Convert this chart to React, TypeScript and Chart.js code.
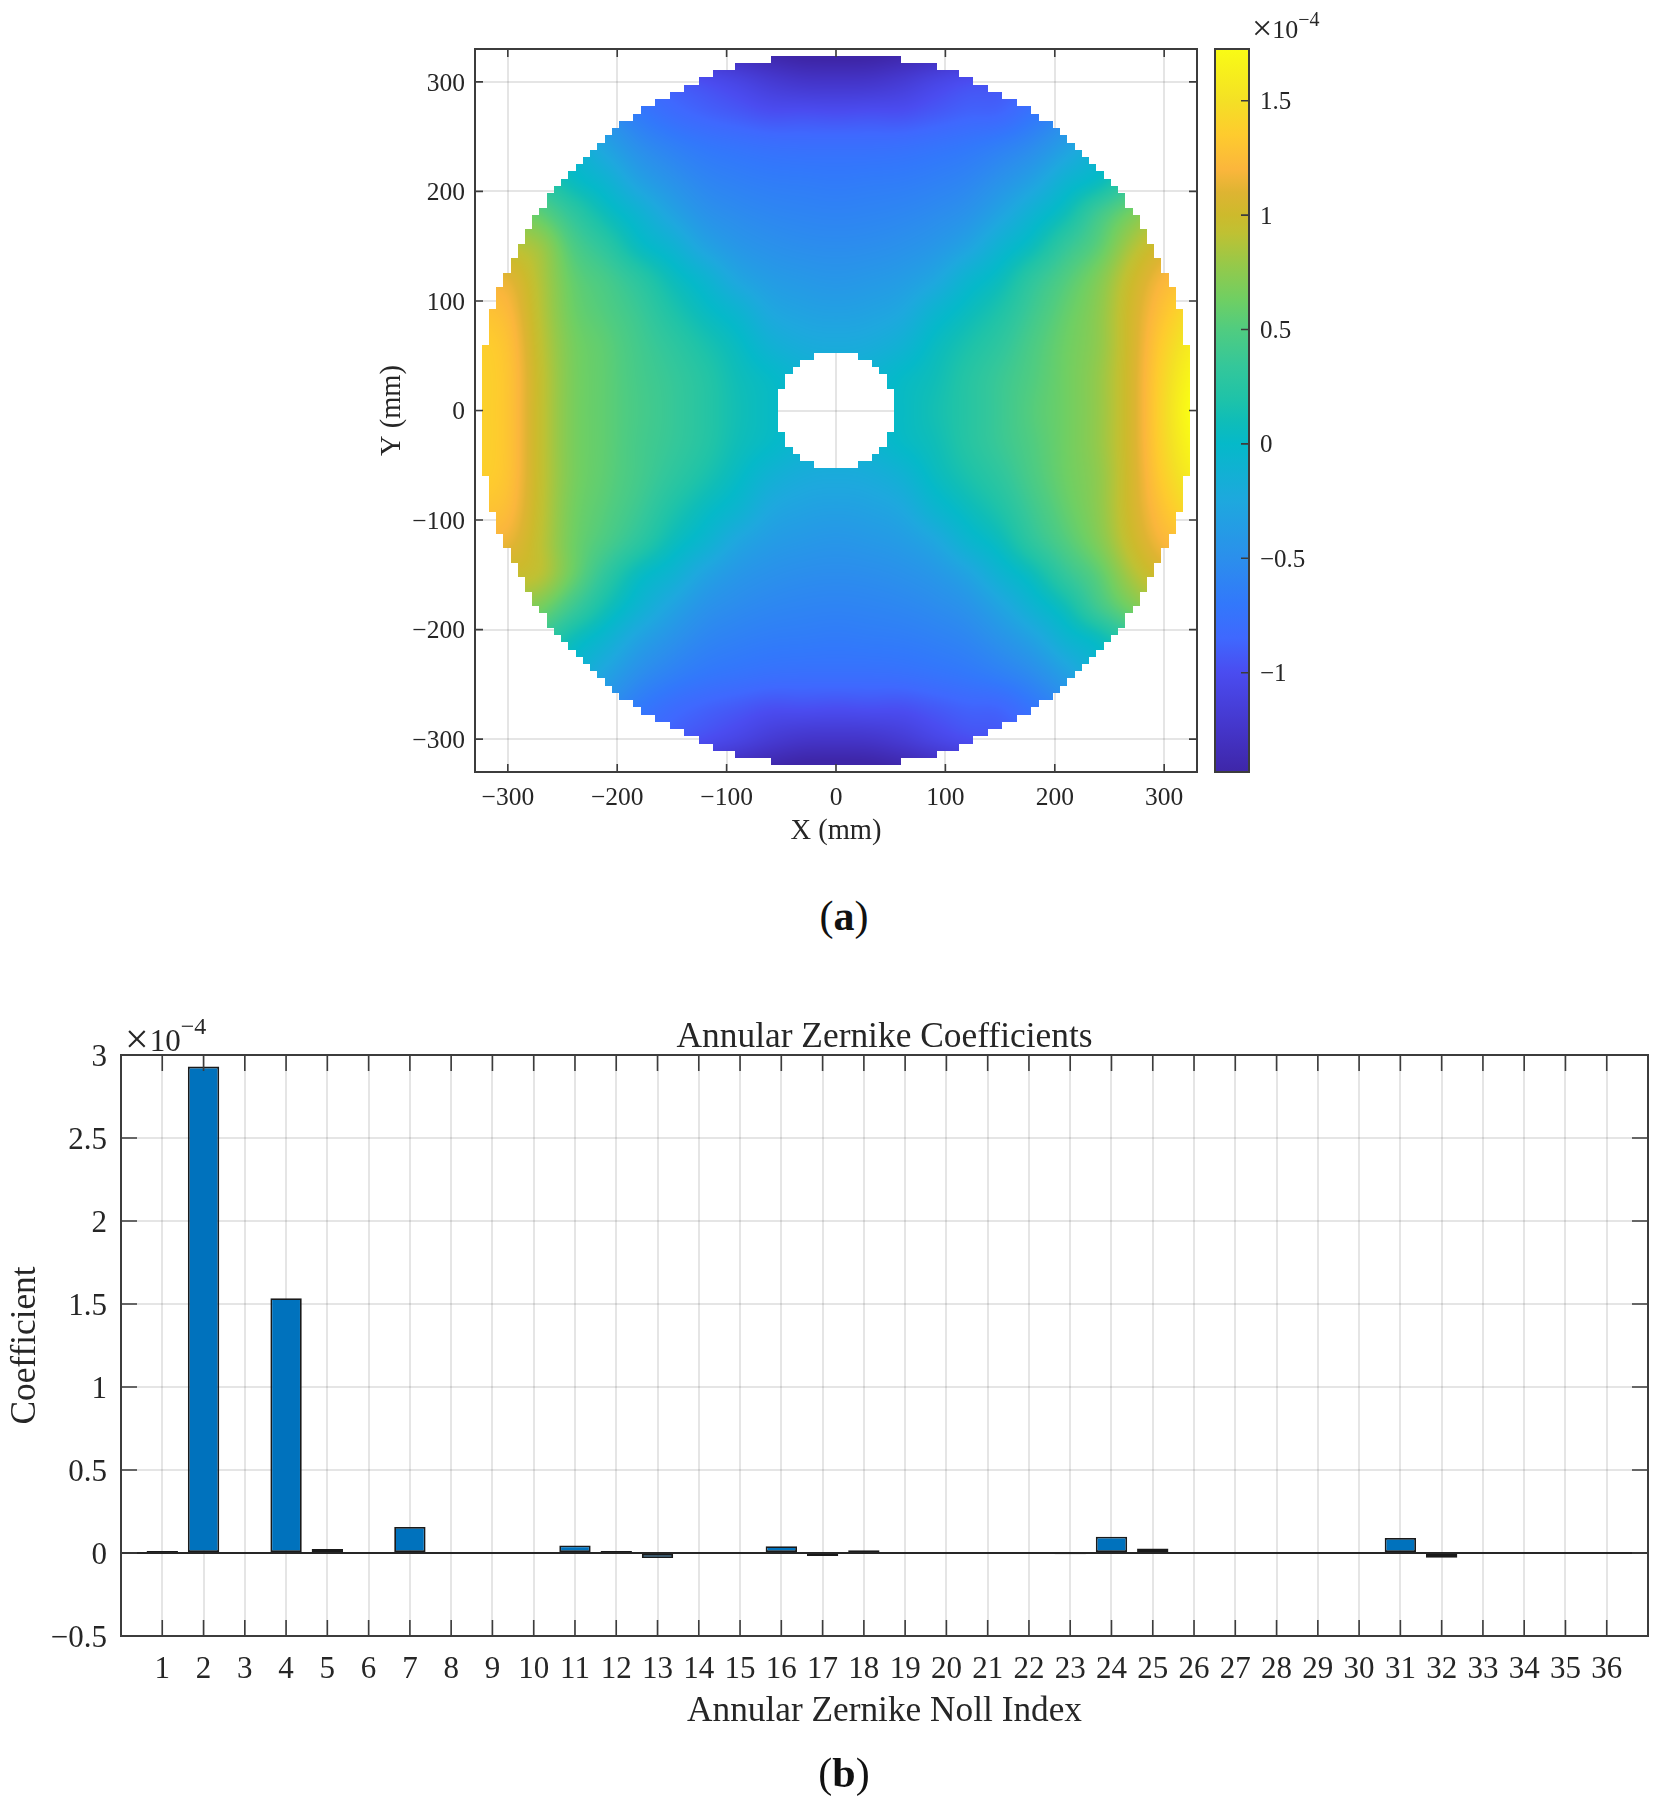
import React, { useEffect, useRef } from "react";
import { Chart, registerables } from "chart.js";

Chart.register(...registerables);

const SERIF = "'Liberation Serif', 'Times New Roman', serif";
const INK = "#262626";
const FRAME = "#3c3c3c";
const GRID = "rgba(38,38,38,0.12)";

// ---------- panel (a): surface, in units of 1e-4 ----------
const surfaceX = [-330, -300, -270, -240, -210, -180, -150, -120, -90, -60, -30, 0, 30, 60, 90, 120, 150, 180, 210, 240, 270, 300, 330];
const surfaceY = [330, 300, 270, 240, 210, 180, 150, 120, 90, 60, 30, 0, -30, -60, -90, -120, -150, -180, -210, -240, -270, -300, -330];
const surfaceRows = [
  [-0.3, -0.4, -0.6, -0.8, -1.0, -1.1, -1.2, -1.3, -1.38, -1.44, -1.49, -1.5, -1.49, -1.44, -1.38, -1.3, -1.2, -1.1, -1.0, -0.8, -0.6, -0.4, -0.3],
  [-0.1, -0.2, -0.3, -0.55, -0.75, -0.85, -0.93, -1.0, -1.08, -1.18, -1.24, -1.25, -1.24, -1.18, -1.08, -1.0, -0.97, -0.9, -0.8, -0.55, -0.3, -0.2, -0.1],
  [0.1, 0.0, -0.1, -0.28, -0.5, -0.68, -0.8, -0.87, -0.92, -0.97, -0.97, -0.98, -0.97, -0.97, -0.92, -0.87, -0.85, -0.72, -0.55, -0.3, -0.1, 0.0, 0.1],
  [0.3, 0.2, 0.05, -0.08, -0.3, -0.5, -0.62, -0.7, -0.74, -0.77, -0.78, -0.78, -0.78, -0.77, -0.74, -0.7, -0.63, -0.52, -0.33, -0.1, 0.05, 0.2, 0.3],
  [0.5, 0.4, 0.25, 0.05, -0.1, -0.32, -0.47, -0.58, -0.63, -0.66, -0.67, -0.68, -0.67, -0.66, -0.63, -0.58, -0.47, -0.32, -0.1, 0.05, 0.3, 0.5, 0.6],
  [0.8, 0.7, 0.55, 0.3, 0.08, -0.1, -0.3, -0.46, -0.53, -0.57, -0.59, -0.6, -0.59, -0.57, -0.53, -0.46, -0.3, -0.1, 0.1, 0.4, 0.65, 0.85, 0.95],
  [1.0, 0.92, 0.8, 0.48, 0.28, 0.05, -0.1, -0.3, -0.42, -0.48, -0.51, -0.52, -0.51, -0.48, -0.42, -0.3, -0.1, 0.08, 0.33, 0.55, 0.85, 1.05, 1.15],
  [1.15, 1.12, 0.87, 0.58, 0.44, 0.27, 0.08, -0.08, -0.27, -0.37, -0.41, -0.43, -0.41, -0.37, -0.27, -0.08, 0.07, 0.3, 0.5, 0.7, 0.98, 1.2, 1.3],
  [1.3, 1.22, 0.9, 0.62, 0.5, 0.37, 0.2, 0.05, -0.08, -0.25, -0.31, -0.33, -0.31, -0.25, -0.08, 0.06, 0.2, 0.4, 0.58, 0.75, 1.03, 1.3, 1.5],
  [1.38, 1.28, 0.93, 0.66, 0.55, 0.42, 0.3, 0.17, 0.04, -0.12, -0.2, -0.22, -0.2, -0.12, 0.04, 0.17, 0.3, 0.47, 0.62, 0.76, 1.04, 1.38, 1.62],
  [1.4, 1.3, 0.95, 0.67, 0.56, 0.44, 0.35, 0.24, 0.1, 0.01, -0.08, -0.12, -0.08, 0.01, 0.1, 0.24, 0.37, 0.5, 0.63, 0.78, 1.05, 1.43, 1.72],
  [1.4, 1.3, 0.95, 0.67, 0.56, 0.45, 0.36, 0.25, 0.12, 0.03, -0.03, -0.08, -0.03, 0.03, 0.13, 0.25, 0.38, 0.52, 0.63, 0.78, 1.05, 1.45, 1.78],
  [1.4, 1.3, 0.95, 0.67, 0.56, 0.44, 0.35, 0.24, 0.1, 0.01, -0.08, -0.12, -0.08, 0.01, 0.1, 0.24, 0.37, 0.5, 0.63, 0.78, 1.05, 1.43, 1.72],
  [1.38, 1.29, 0.95, 0.67, 0.55, 0.43, 0.3, 0.17, 0.03, -0.12, -0.2, -0.22, -0.2, -0.12, 0.04, 0.17, 0.3, 0.47, 0.62, 0.76, 1.04, 1.38, 1.62],
  [1.3, 1.24, 0.94, 0.65, 0.52, 0.38, 0.2, 0.05, -0.08, -0.25, -0.31, -0.33, -0.31, -0.25, -0.08, 0.06, 0.2, 0.4, 0.58, 0.75, 1.03, 1.3, 1.5],
  [1.18, 1.14, 0.92, 0.63, 0.46, 0.28, 0.08, -0.08, -0.27, -0.37, -0.41, -0.43, -0.41, -0.37, -0.27, -0.08, 0.07, 0.3, 0.5, 0.7, 0.98, 1.2, 1.3],
  [1.05, 0.98, 0.9, 0.6, 0.3, 0.05, -0.1, -0.3, -0.42, -0.48, -0.51, -0.52, -0.51, -0.48, -0.42, -0.3, -0.1, 0.08, 0.33, 0.55, 0.85, 1.05, 1.15],
  [0.85, 0.78, 0.65, 0.38, 0.12, -0.1, -0.3, -0.46, -0.53, -0.57, -0.59, -0.6, -0.59, -0.57, -0.53, -0.46, -0.3, -0.1, 0.1, 0.4, 0.65, 0.85, 0.95],
  [0.55, 0.45, 0.32, 0.08, -0.1, -0.32, -0.47, -0.58, -0.63, -0.66, -0.67, -0.68, -0.67, -0.66, -0.63, -0.58, -0.47, -0.32, -0.1, 0.05, 0.3, 0.5, 0.6],
  [0.3, 0.2, 0.08, -0.08, -0.3, -0.5, -0.62, -0.7, -0.74, -0.77, -0.78, -0.78, -0.78, -0.77, -0.74, -0.7, -0.63, -0.52, -0.33, -0.1, 0.05, 0.2, 0.3],
  [0.1, 0.0, -0.1, -0.28, -0.5, -0.68, -0.8, -0.87, -0.92, -0.97, -0.97, -0.98, -0.97, -0.97, -0.92, -0.87, -0.85, -0.72, -0.55, -0.3, -0.1, 0.0, 0.1],
  [-0.1, -0.2, -0.3, -0.55, -0.75, -0.85, -0.93, -1.0, -1.08, -1.18, -1.24, -1.25, -1.24, -1.18, -1.08, -1.0, -0.97, -0.9, -0.8, -0.55, -0.3, -0.2, -0.1],
  [-0.3, -0.4, -0.6, -0.8, -1.0, -1.1, -1.2, -1.3, -1.38, -1.44, -1.49, -1.5, -1.49, -1.44, -1.38, -1.3, -1.2, -1.1, -1.0, -0.8, -0.6, -0.4, -0.3],
];
// Staircase outline of the measured cells: half width, in cells, of each row from the rim to the middle.
const CELL_MM = 6.612;
const rimHalfCells = [9, 14, 17, 19, 21, 23, 25, 27, 28, 30, 31, 32, 33, 34, 35, 36, 37, 38, 39, 40, 40, 41, 42, 42, 43, 43, 44, 44, 45, 45, 46, 46, 47, 47, 47, 48, 48, 48, 48, 48, 49, 49, 49, 49, 49, 49, 49, 49, 49];
const holeHalfCells = [3, 5, 6, 7, 7, 8, 8, 8];

const mapTicks = [-300, -200, -100, 0, 100, 200, 300];
const colorbarTicks = [-1, -0.5, 0, 0.5, 1, 1.5];
const colorbarRange: [number, number] = [-1.434, 1.726];
const colormapValues = [-1.434, -1.25, -1.0, -0.85, -0.7, -0.5, -0.25, 0, 0.1, 0.2, 0.34, 0.5, 0.63, 0.78, 0.92, 1.0, 1.1, 1.2, 1.35, 1.5, 1.726];
const colormapColors = ["#3e26a8", "#4435c9", "#4a4cf0", "#3f68fe", "#3278fb", "#2b8fec", "#1ea8de", "#05b9c9", "#0fbdb8", "#1fc3a8", "#34c79a", "#50cc80", "#6fcf63", "#95c94a", "#bfc133", "#cdba2c", "#deb432", "#fbb63c", "#fecb2e", "#f4e025", "#f9fb15"];

// ---------- panel (b) ----------
const nollIndex = Array.from({ length: 36 }, (_, i) => i + 1);
const coefficients = [0.012, 2.93, 0.001, 1.535, 0.024, 0.001, 0.157, 0.002, -0.001, 0.001, 0.045, 0.012, -0.03, 0.001, 0.001, 0.041, -0.018, 0.017, 0.001, 0.001, -0.001, 0.001, -0.008, 0.098, 0.027, 0.001, 0.001, -0.001, 0.001, 0.001, 0.091, -0.028, 0.001, 0.001, -0.001, 0.001];
const coefficientTicks = [-0.5, 0, 0.5, 1, 1.5, 2, 2.5, 3];

const minus = (v: number) => (v < 0 ? "\u2212" + Math.abs(v) : String(v));
const hexRgb = (h: string) => [1, 3, 5].map((i) => parseInt(h.slice(i, i + 2), 16));
const colormapRgb = colormapColors.map(hexRgb);

function colorOf(v: number) {
  const n = colormapValues.length;
  if (v <= colormapValues[0]) return colormapRgb[0];
  if (v >= colormapValues[n - 1]) return colormapRgb[n - 1];
  let i = 0;
  while (colormapValues[i + 1] < v) i++;
  const t = (v - colormapValues[i]) / (colormapValues[i + 1] - colormapValues[i]);
  return colormapRgb[i].map((c, k) => c + (colormapRgb[i + 1][k] - c) * t);
}

const cr = (a: number, b: number, c: number, d: number, t: number) =>
  0.5 * (2 * b + (c - a) * t + (2 * a - 5 * b + 4 * c - d) * t * t + (3 * b - a - 3 * c + d) * t * t * t);

// Paints the dataset the way an interpolated (shaded) surface is painted.
const surfacePlugin = {
  id: "surface",
  beforeDatasetsDraw(chart: any) {
    const { ctx, chartArea: a, scales } = chart;
    const pts = chart.data.datasets[0].data;
    const nx = surfaceX.length;
    const ny = surfaceY.length;
    const z = (r: number, c: number) =>
      pts[Math.max(0, Math.min(ny - 1, r)) * nx + Math.max(0, Math.min(nx - 1, c))].v;
    const w = Math.round(a.width);
    const h = Math.round(a.height);
    const off = document.createElement("canvas");
    off.width = w;
    off.height = h;
    const oc = off.getContext("2d")!;
    const img = oc.createImageData(w, h);
    const dx = surfaceX[1] - surfaceX[0];
    const dy = surfaceY[0] - surfaceY[1];
    for (let py = 0; py < h; py++) {
      const my = scales.y.getValueForPixel(a.top + py + 0.5);
      const rowDist = Math.floor(Math.abs(my) / CELL_MM);
      const rimK = rimHalfCells.length - 1 - rowDist;
      if (rimK < 0) continue;
      const holeK = holeHalfCells.length - 1 - rowDist;
      const fr = (surfaceY[0] - my) / dy;
      const r0 = Math.floor(fr);
      const tr = fr - r0;
      for (let px = 0; px < w; px++) {
        const mx = scales.x.getValueForPixel(a.left + px + 0.5);
        const col = Math.abs(mx) / CELL_MM;
        if (col >= rimHalfCells[rimK]) continue;
        if (holeK >= 0 && col < holeHalfCells[holeK]) continue;
        const fc = (mx - surfaceX[0]) / dx;
        const c0 = Math.floor(fc);
        const tc = fc - c0;
        const row = [-1, 0, 1, 2].map((o) =>
          cr(z(r0 + o, c0 - 1), z(r0 + o, c0), z(r0 + o, c0 + 1), z(r0 + o, c0 + 2), tc)
        );
        const rgb = colorOf(cr(row[0], row[1], row[2], row[3], tr));
        const i = (py * w + px) * 4;
        img.data[i] = rgb[0];
        img.data[i + 1] = rgb[1];
        img.data[i + 2] = rgb[2];
        img.data[i + 3] = 255;
      }
    }
    oc.putImageData(img, 0, 0);
    ctx.save();
    ctx.filter = "blur(0.5px)";
    ctx.drawImage(off, a.left, a.top, a.width, a.height);
    ctx.restore();
  },
};

// Inward tick marks on all four sides, and the box around the axes.
const framePlugin = (id: string, len: number, baseline = false, showX = true) => ({
  id,
  afterDatasetsDraw(chart: any) {
    const { ctx, chartArea: a, scales } = chart;
    ctx.save();
    if (baseline) {
      const y0 = scales.y.getPixelForValue(0);
      ctx.strokeStyle = "#262626";
      ctx.lineWidth = 2;
      ctx.beginPath();
      ctx.moveTo(a.left, y0);
      ctx.lineTo(a.right, y0);
      ctx.stroke();
    }
    ctx.strokeStyle = FRAME;
    ctx.lineWidth = 1.6;
    ctx.beginPath();
    if (showX) {
      for (const t of scales.x.ticks) {
        const x = scales.x.getPixelForValue(t.value);
        ctx.moveTo(x, a.top);
        ctx.lineTo(x, a.top + len);
        ctx.moveTo(x, a.bottom);
        ctx.lineTo(x, a.bottom - len);
      }
    }
    for (const t of scales.y.ticks) {
      const y = scales.y.getPixelForValue(t.value);
      if (showX) {
        ctx.moveTo(a.left, y);
        ctx.lineTo(a.left + len, y);
      }
      ctx.moveTo(a.right, y);
      ctx.lineTo(a.right - len, y);
    }
    ctx.stroke();
    ctx.lineWidth = 2;
    ctx.strokeRect(a.left, a.top, a.width, a.height);
    ctx.restore();
  },
});

const fixW = (n: number) => (s: any) => {
  s.width = n;
};
const fixH = (n: number) => (s: any) => {
  s.height = n;
};
const useTicks = (vals: number[]) => (s: any) => {
  s.ticks = vals.map((value) => ({ value }));
};

const Multiplier = ({ left, base, size, timesSize, gap, supSize, rise }: any) => (
  <div
    style={{
      position: "absolute",
      left,
      top: base - 0.891 * timesSize,
      fontFamily: SERIF,
      fontSize: timesSize,
      color: INK,
      whiteSpace: "nowrap",
    }}
  >
    <span style={{ position: "relative", top: size * 0.08 }}>×</span>
    <span style={{ marginLeft: gap, fontSize: size }}>10</span>
    <span style={{ fontSize: supSize, position: "relative", top: -rise }}>−4</span>
  </div>
);

const Caption = ({ cx, base, letter }: any) => (
  <div
    style={{
      position: "absolute",
      left: cx - 60,
      width: 120,
      textAlign: "center",
      top: base - 0.891 * 42,
      fontFamily: SERIF,
      fontSize: 42,
      color: "#111",
    }}
  >
    (<b>{letter}</b>)
  </div>
);

export default function App() {
  const mapRef = useRef<HTMLCanvasElement>(null);
  const barRef = useRef<HTMLCanvasElement>(null);
  const coefRef = useRef<HTMLCanvasElement>(null);

  useEffect(() => {
    Chart.defaults.font.family = SERIF;
    Chart.defaults.color = INK;
    const tip = { legend: { display: false }, tooltip: { enabled: false } };

    const surfacePoints = surfaceRows.flatMap((row, r) =>
      row.map((v, c) => ({ x: surfaceX[c], y: surfaceY[r], v }))
    );

    const map = new Chart(mapRef.current!, {
      type: "scatter",
      data: { datasets: [{ data: surfacePoints as any, pointRadius: 0 }] },
      plugins: [surfacePlugin, framePlugin("mapFrame", 8)],
      options: {
        animation: false,
        responsive: false,
        layout: { padding: { top: 29, right: 13, left: 0, bottom: 0 } },
        plugins: tip,
        scales: {
          x: {
            type: "linear",
            min: -330,
            max: 330,
            afterBuildTicks: useTicks(mapTicks),
            afterFit: fixH(88),
            border: { display: false },
            grid: { color: GRID, lineWidth: 2, drawTicks: false },
            ticks: {
              autoSkip: false,
              maxRotation: 0,
              padding: 11,
              font: { size: 25.5 },
              callback: (v: any) => minus(Number(v)),
            },
            title: { display: true, text: "X (mm)", font: { size: 28.5 }, padding: { top: 0, bottom: 11.5 } },
          },
          y: {
            type: "linear",
            min: -330,
            max: 330,
            afterBuildTicks: useTicks(mapTicks),
            afterFit: fixW(115),
            border: { display: false },
            grid: { color: GRID, lineWidth: 2, drawTicks: false },
            ticks: { autoSkip: false, padding: 10, labelOffset: 2, font: { size: 25.5 }, callback: (v: any) => minus(Number(v)) },
            title: { display: true, text: "Y (mm)", font: { size: 28.5 }, padding: { top: 15, bottom: 0 } },
          },
        },
      },
    });

    const colorbar = new Chart(barRef.current!, {
      type: "bar",
      data: {
        labels: ["colorbar"],
        datasets: [
          {
            data: [colorbarRange] as any,
            barPercentage: 1,
            categoryPercentage: 1,
            backgroundColor: (ctx: any) => {
              const { chart } = ctx;
              if (!chart.chartArea) return "#00b8c8";
              const y = chart.scales.y;
              const g = chart.ctx.createLinearGradient(0, y.getPixelForValue(colorbarRange[0]), 0, y.getPixelForValue(colorbarRange[1]));
              colormapValues.forEach((v, i) =>
                g.addColorStop((v - colorbarRange[0]) / (colorbarRange[1] - colorbarRange[0]), colormapColors[i])
              );
              return g;
            },
          },
        ],
      },
      plugins: [framePlugin("barFrame", 8, false, false)],
      options: {
        animation: false,
        responsive: false,
        layout: { padding: { top: 29, left: 15, right: 0, bottom: 88 } },
        plugins: tip,
        scales: {
          x: { display: false },
          y: {
            position: "right",
            min: colorbarRange[0],
            max: colorbarRange[1],
            afterBuildTicks: useTicks(colorbarTicks),
            afterFit: fixW(91),
            border: { display: false },
            grid: { display: false },
            ticks: { autoSkip: false, padding: 3, labelOffset: 2, font: { size: 25 }, callback: (v: any) => minus(Number(v)) },
          },
        },
      },
    });

    const coef = new Chart(coefRef.current!, {
      type: "bar",
      data: {
        datasets: [
          {
            data: nollIndex.map((x, i) => ({ x, y: coefficients[i] })) as any,
            backgroundColor: "#0072BD",
            borderColor: "#1a1a1a",
            borderWidth: 1.8,
            borderSkipped: false,
            barPercentage: 0.76,
            categoryPercentage: 1,
          },
        ],
      },
      plugins: [framePlugin("coefFrame", 16, true)],
      options: {
        animation: false,
        responsive: false,
        layout: { padding: { top: 0, right: 11, left: 0, bottom: 0 } },
        plugins: {
          ...tip,
          title: {
            display: true,
            fullSize: false,
            text: "Annular Zernike Coefficients",
            color: INK,
            font: { size: 35.4, weight: "normal", lineHeight: 1 },
            padding: { top: 3.6, bottom: 0 },
          },
        },
        scales: {
          x: {
            type: "linear",
            offset: false,
            min: 0,
            max: 37,
            afterBuildTicks: useTicks(nollIndex),
            afterFit: fixH(124),
            border: { display: false },
            grid: { offset: false, color: GRID, lineWidth: 2, drawTicks: false },
            ticks: { autoSkip: false, maxRotation: 0, padding: 15, font: { size: 31 }, callback: (v: any) => String(v) },
            title: {
              display: true,
              text: "Annular Zernike Noll Index",
              font: { size: 35.3 },
              padding: { top: 0, bottom: 27.5 },
            },
          },
          y: {
            type: "linear",
            min: -0.5,
            max: 3,
            afterBuildTicks: useTicks(coefficientTicks),
            afterFit: fixW(121),
            border: { display: false },
            grid: { color: GRID, lineWidth: 2, drawTicks: false },
            ticks: { autoSkip: false, padding: 14, labelOffset: 2.5, font: { size: 31 }, callback: (v: any) => minus(Number(v)) },
            title: { display: true, text: "Coefficient", font: { size: 35.3 }, padding: { top: 5, bottom: 0 } },
          },
        },
      },
    });

    return () => {
      map.destroy();
      colorbar.destroy();
      coef.destroy();
    };
  }, []);

  return (
    <div style={{ position: "absolute", left: 0, top: 0, width: 1659, height: 1807, overflow: "hidden", background: "#fff" }}>
      <canvas ref={mapRef} width={850} height={840} style={{ position: "absolute", left: 360, top: 20 }} />
      <canvas ref={barRef} width={140} height={840} style={{ position: "absolute", left: 1200, top: 20 }} />
      <canvas ref={coefRef} width={1659} height={744} style={{ position: "absolute", left: 0, top: 1016 }} />
      <Multiplier left={1252} base={37} size={26} timesSize={36} gap={0} supSize={20} rise={12} />
      <Multiplier left={125} base={1050} size={31} timesSize={42} gap={1} supSize={24} rise={17} />
      <Caption cx={844} base={929} letter="a" />
      <Caption cx={844} base={1786} letter="b" />
    </div>
  );
}
